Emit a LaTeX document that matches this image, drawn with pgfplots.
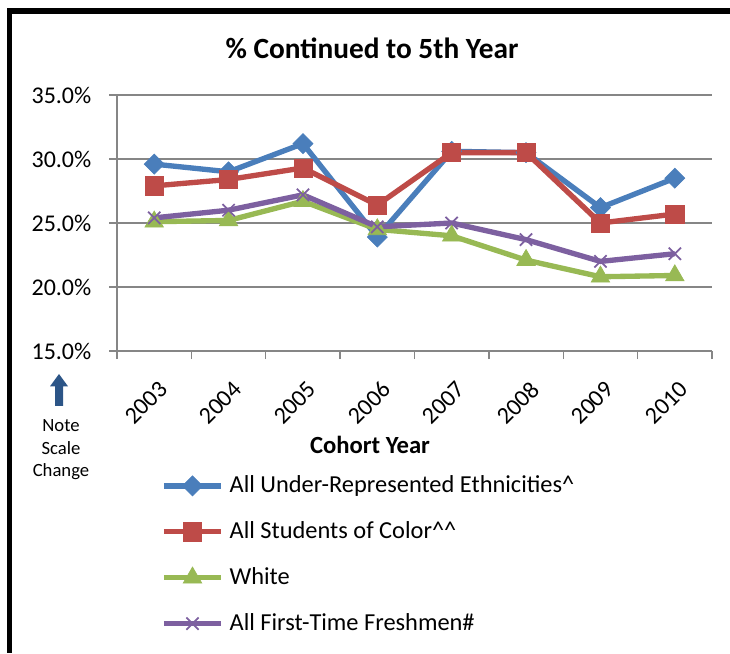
\documentclass[border=0pt]{standalone}
\usepackage{fontspec}
\setmainfont{Carlito}
\usepackage{pgfplots}
\pgfplotsset{compat=1.18}
\definecolor{ser1}{HTML}{4A7EBB}
\definecolor{ser2}{HTML}{BE4B48}
\definecolor{ser3}{HTML}{98B954}
\definecolor{ser4}{HTML}{7D60A0}
\definecolor{axgray}{HTML}{868686}
\definecolor{arrowblue}{HTML}{2C5587}
\begin{document}
\begin{tikzpicture}
\useasboundingbox (0,0) rectangle (547.5pt,489.75pt);
\fill[black] (5.2pt,0pt) rectangle (9pt,483.75pt);
\fill[black] (5.2pt,479.25pt) rectangle (547.5pt,483.75pt);
\begin{axis}[
  at={(87.75pt,226.5pt)}, anchor=south west,
  scale only axis, width=446.25pt, height=192pt,
  xmin=-0.5, xmax=7.5, ymin=15, ymax=35,
  axis x line*=bottom, axis y line*=left,
  axis line style={axgray, line width=1pt},
  xtick={0,1,2,3,4,5,6,7},
  xticklabels={2003,2004,2005,2006,2007,2008,2009,2010},
  minor xtick={-0.5,0.5,1.5,2.5,3.5,4.5,5.5,6.5,7.5},
  every major x tick/.append style={draw=none},
  ytick={15,20,25,30,35},
  yticklabels={15.0\%,20.0\%,25.0\%,30.0\%,35.0\%},
  ymajorgrids, grid style={axgray, line width=1pt},
  tick align=outside,
  major tick length=6pt, minor tick length=6pt,
  tick style={axgray, line width=1pt},
  every tick label/.append style={font=\fontsize{18}{21}\selectfont},
  x tick label style={rotate=45, anchor=north east, inner sep=1pt, xshift=-8pt, yshift=-11.75pt},
  y tick label style={xshift=-9.75pt},
  legend style={at={(axis description cs:0.074,-0.474)}, anchor=north west,
    draw=none, fill=none, inner sep=0pt, row sep=14.4pt, column sep=4.5pt,
    font=\fontsize{18.3}{21}\selectfont,
    nodes={inner sep=0pt, text height=15.25pt, text depth=4.75pt, anchor=west}},
  legend cell align=left,
  legend image code/.code={\draw[#1, mark repeat=2, mark phase=2] plot coordinates {(0pt,0pt) (21.4pt,0pt) (42.75pt,0pt)};},
]
\addplot[ser1, line width=4pt, mark=square*, mark size=5.3pt,
  mark options={rotate=45, line width=0.5pt, fill=ser1, draw=ser1}]
  coordinates {(0,29.6) (1,29.0) (2,31.2) (3,23.9) (4,30.6) (5,30.5) (6,26.2) (7,28.5)};
\addlegendentry{All Under-Represented Ethnicities\^{}}
\addplot[ser2, line width=4pt, mark=square*, mark size=6.8pt,
  mark options={line width=0.5pt, fill=ser2, draw=ser2}]
  coordinates {(0,27.9) (1,28.4) (2,29.3) (3,26.4) (4,30.5) (5,30.5) (6,25.0) (7,25.7)};
\addlegendentry{All Students of Color\^{}\^{}}
\addplot[ser3, line width=4pt, mark=triangle*, mark size=8pt,
  mark options={line width=0.5pt, fill=ser3, draw=ser3}]
  coordinates {(0,25.1) (1,25.2) (2,26.7) (3,24.5) (4,24.0) (5,22.1) (6,20.8) (7,20.9)};
\addlegendentry{White}
\addplot[ser4, line width=4pt, mark=x, mark size=6.5pt,
  mark options={line width=1.3pt, draw=ser4}]
  coordinates {(0,25.4) (1,26.0) (2,27.2) (3,24.7) (4,25.0) (5,23.7) (6,22.0) (7,22.6)};
\addlegendentry{All First-Time Freshmen\#}
\end{axis}
\node[anchor=base, font=\bfseries\fontsize{22}{26}\selectfont, inner sep=0pt] at (279pt,446pt) {\% Continued to 5th Year};
\node[anchor=base, font=\bfseries\fontsize{18.5}{22}\selectfont, inner sep=0pt] at (277.5pt,149.8pt) {Cohort Year};
\node[anchor=base, font=\fontsize{14}{17}\selectfont, inner sep=0pt] at (45.75pt,166pt) {Note};
\node[anchor=base, font=\fontsize{14}{17}\selectfont, inner sep=0pt] at (45.75pt,149pt) {Scale};
\node[anchor=base, font=\fontsize{14}{17}\selectfont, inner sep=0pt] at (45.75pt,132.2pt) {Change};
\fill[arrowblue] (41.25pt,185.25pt) -- (47.25pt,185.25pt) -- (47.25pt,200pt) -- (51pt,200pt)
  -- (44.25pt,209.25pt) -- (37.5pt,200pt) -- (41.25pt,200pt) -- cycle;
\end{tikzpicture}
\end{document}
